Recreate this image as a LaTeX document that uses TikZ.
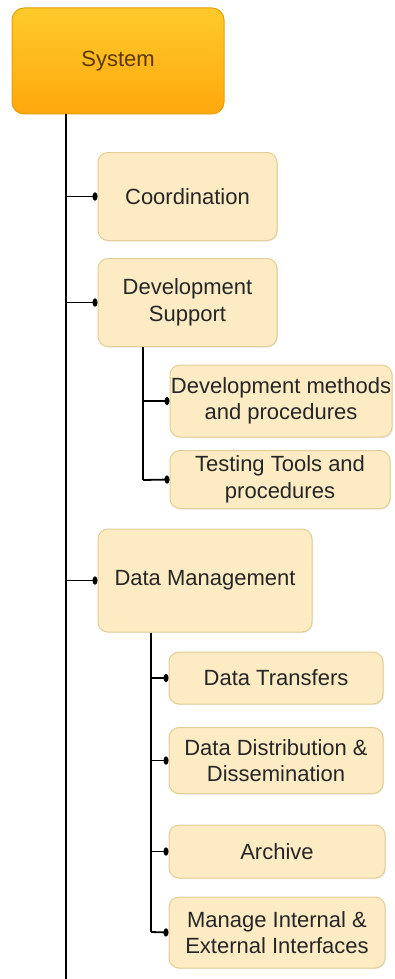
\documentclass[tikz,border=0pt]{standalone}
\usepackage{fontspec}
\setmainfont{Liberation Sans}
\usetikzlibrary{arrows.meta,shadows}
\definecolor{sysTop}{HTML}{FFCA2C}
\definecolor{sysBot}{HTML}{FFA80C}
\definecolor{sysBorder}{HTML}{E3A000}
\definecolor{sysText}{HTML}{5A3800}
\definecolor{boxFill}{HTML}{FDEBC4}
\definecolor{boxBorder}{HTML}{E2CE96}
\definecolor{boxText}{HTML}{262626}
\tikzset{
  sysbox/.style={draw=sysBorder, line width=1pt, rounded corners=12pt,
    top color=sysTop, bottom color=sysBot, text=sysText,
    inner sep=0pt, align=center, font=\fontsize{22}{26.5}\selectfont},
  itembox/.style={draw=boxBorder, line width=1pt, rounded corners=10pt,
    fill=boxFill, text=boxText, inner sep=0pt, align=center,
    font=\fontsize{22}{26.5}\selectfont,
    drop shadow={shadow xshift=1pt, shadow yshift=-1pt, opacity=0.15}},
  conn/.style={draw=black, line width=1.8pt},
  thickseg/.style={draw=black, line width=2.8pt},
  tipconn/.style={conn, -{Circle[length=5pt,width=8pt]}}
}
\begin{document}
\begin{tikzpicture}[x=1pt,y=-1pt]
\fill[white] (0,0) rectangle (394,979);
\useasboundingbox (0,0) rectangle (394,979);
% boxes
\node[sysbox, minimum width=212pt, minimum height=106pt] (sys) at (118,61) {System};
\node[itembox, minimum width=179pt, minimum height=88pt] (coord) at (187.5,196.5) {Coordination};
\node[itembox, minimum width=179pt, minimum height=88pt] (dev) at (187.5,302.5) {Development\\Support};
\node[itembox, minimum width=222pt, minimum height=72pt] (devm) at (281,401) {Development methods\\and procedures};
\node[itembox, minimum width=220pt, minimum height=58pt] (test) at (280,479.5) {Testing Tools and\\procedures};
\node[itembox, minimum width=214pt, minimum height=103pt] (dm) at (205,580.5) {Data Management};
\node[itembox, minimum width=214pt, minimum height=52pt] (dt) at (276,678) {Data Transfers};
\node[itembox, minimum width=214pt, minimum height=66pt] (dd) at (276,760.5) {Data Distribution \&\\Dissemination};
\node[itembox, minimum width=216pt, minimum height=53pt] (arc) at (277,851.5) {Archive};
\node[itembox, minimum width=216pt, minimum height=71pt] (mie) at (277,932.5) {Manage Internal \&\\External Interfaces};
% trunk end points
\coordinate (mainend) at (66,979);
\coordinate (mainthick) at (66,895);
\coordinate (devtrunk) at (143,480);
\coordinate (dmtrunk) at (151,932);
\coordinate (dmthickA) at (151,728);
\coordinate (dmthickB) at (151,758);
% connectors
\draw[conn] (sys.south -| mainend) -- (mainend);
\draw[thickseg] (mainthick) -- (mainend);
\draw[tipconn] (mainend |- coord.west) -- (coord.west);
\draw[tipconn] (mainend |- dev.west) -- (dev.west);
\draw[tipconn] (mainend |- dm.west) -- (dm.west);
\draw[conn] (dev.south -| devtrunk) -- (devtrunk);
\draw[tipconn] (devtrunk |- devm.west) -- (devm.west);
\draw[tipconn] (devtrunk) -- (test.west);
\draw[conn] (dm.south -| dmtrunk) -- (dmtrunk);
\draw[thickseg] (dmthickA) -- (dmthickB);
\draw[tipconn] (dmtrunk |- dt.west) -- (dt.west);
\draw[tipconn] (dmtrunk |- dd.west) -- (dd.west);
\draw[tipconn] (dmtrunk |- arc.west) -- (arc.west);
\draw[tipconn] (dmtrunk) -- (mie.west);
\end{tikzpicture}
\end{document}
